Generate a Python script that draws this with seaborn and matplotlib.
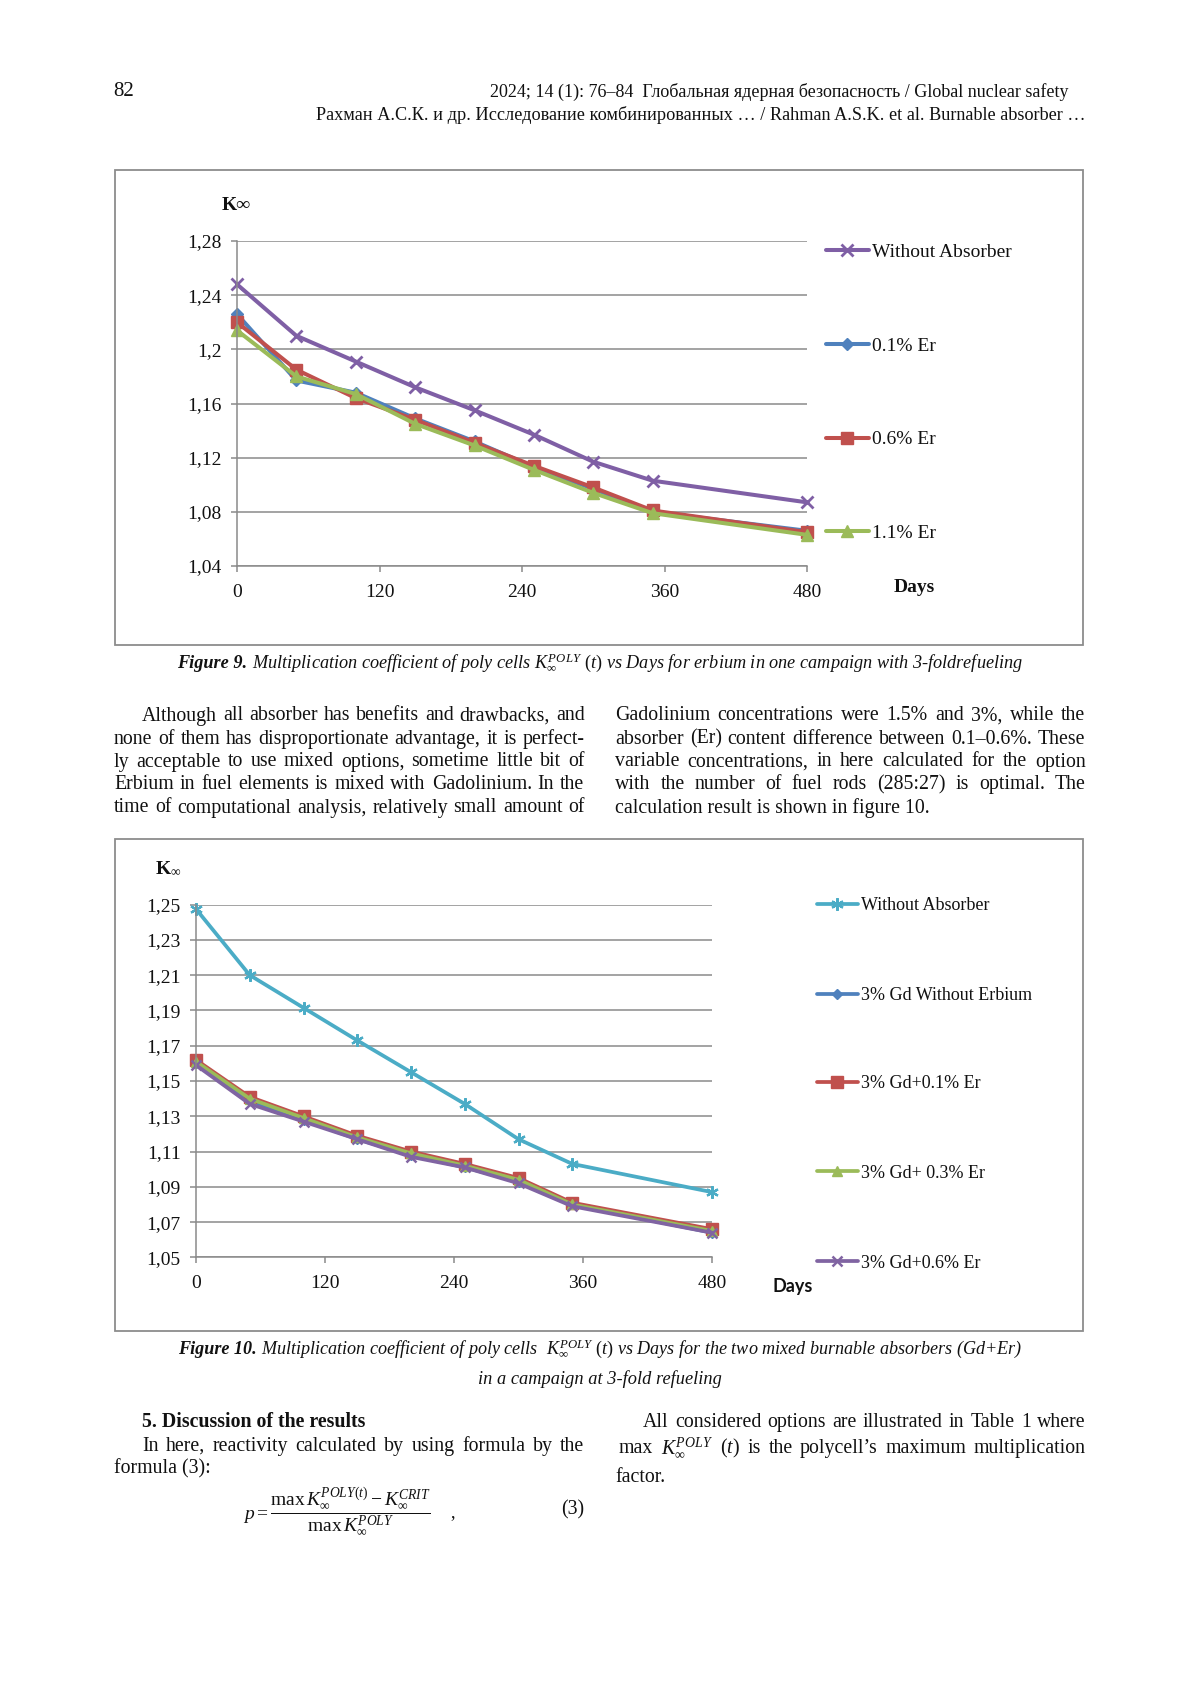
import matplotlib
matplotlib.use("Agg")
import matplotlib.pyplot as plt
import seaborn as sns
from matplotlib.patches import Rectangle

# ---------------- data ----------------
days = [0, 50, 100, 150, 200, 250, 300, 350, 480]
x_ticks = [0, 120, 240, 360, 480]
x_ticklabels = ["0", "120", "240", "360", "480"]

fig9_labels = ["Without Absorber", "0.1% Er", "0.6% Er", "1.1% Er"]
fig9_without = [1.248, 1.210, 1.191, 1.172, 1.155, 1.137, 1.117, 1.103, 1.087]
fig9_er01 = [1.226, 1.177, 1.168, 1.149, 1.132, 1.113, 1.097, 1.080, 1.066]
fig9_er06 = [1.220, 1.185, 1.164, 1.148, 1.131, 1.114, 1.098, 1.081, 1.065]
fig9_er11 = [1.214, 1.180, 1.167, 1.145, 1.129, 1.111, 1.094, 1.079, 1.063]
fig9_yticks = [1.04, 1.08, 1.12, 1.16, 1.20, 1.24, 1.28]
fig9_yticklabels = ["1,04", "1,08", "1,12", "1,16", "1,2", "1,24", "1,28"]

fig10_labels = ["Without Absorber", "3% Gd Without Erbium", "3% Gd+0.1% Er",
                "3% Gd+ 0.3% Er", "3% Gd+0.6% Er"]
fig10_without = [1.2475, 1.210, 1.1915, 1.173, 1.155, 1.137, 1.117, 1.103, 1.087]
fig10_gd3 = [1.160, 1.139, 1.128, 1.117, 1.108, 1.101, 1.093, 1.080, 1.064]
fig10_gd3_er01 = [1.162, 1.141, 1.130, 1.119, 1.110, 1.103, 1.095, 1.081, 1.066]
fig10_gd3_er03 = [1.161, 1.140, 1.129, 1.118, 1.109, 1.102, 1.094, 1.080, 1.065]
fig10_gd3_er06 = [1.159, 1.137, 1.127, 1.117, 1.107, 1.101, 1.092, 1.079, 1.064]
fig10_yticks = [1.05, 1.07, 1.09, 1.11, 1.13, 1.15, 1.17, 1.19, 1.21, 1.23, 1.25]
fig10_yticklabels = ["1,05", "1,07", "1,09", "1,11", "1,13", "1,15", "1,17",
                     "1,19", "1,21", "1,23", "1,25"]

header_1 = "2024; 14 (1): 76–84  Глобальная ядерная безопасность / Global nuclear safety"
header_2 = "Рахман А.С.К. и др. Исследование комбинированных … / Rahman A.S.K. et al. Burnable absorber …"
page_no = "82"
caption9 = r"Multiplication coefficient of poly cells $K_{\infty}^{POLY}$ $(t)$ vs Days for erbium in one campaign with 3-foldrefueling"
caption10a = r"Multiplication coefficient of poly cells  $K_{\infty}^{POLY}$ $(t)$ vs Days for the two mixed burnable absorbers (Gd+Er)"
caption10b = "in a campaign at 3-fold refueling"
para_left = ["Although all absorber has benefits and drawbacks, and",
             "none of them has disproportionate advantage, it is perfect-",
             "ly acceptable to use mixed options, sometime little bit of",
             "Erbium in fuel elements is mixed with Gadolinium. In the",
             "time of computational analysis, relatively small amount of"]
para_right = ["Gadolinium concentrations were 1.5% and 3%, while the",
              "absorber (Er) content difference between 0.1–0.6%. These",
              "variable concentrations, in here calculated for the option",
              "with the number of fuel rods (285:27) is optimal. The",
              "calculation result is shown in figure 10."]
sec_title = "5. Discussion of the results"
sec_left = ["In here, reactivity calculated by using formula by the", "formula (3):"]
sec_right = ["All considered options are illustrated in Table 1 where",
             r"max $K_{\infty}^{POLY}$ $(t)$ is the polycell’s maximum multiplication",
             "factor."]
formula = r"$p=\dfrac{\max\,K_{\infty}^{POLY(t)}-K_{\infty}^{CRIT}}{\max\,K_{\infty}^{POLY}}$"

# ---------------- setup ----------------
W, H = 1200, 1697
sns.set_theme(style="white")
plt.rcParams["font.family"] = ["Liberation Serif", "DejaVu Serif"]
plt.rcParams["mathtext.fontset"] = "custom"
plt.rcParams["mathtext.rm"] = "Liberation Serif"
plt.rcParams["mathtext.it"] = "Liberation Serif:italic"
plt.rcParams["mathtext.bf"] = "Liberation Serif:bold"
TXT = "#111111"
GRID = "#8a8a8a"

fig = plt.figure(figsize=(W / 100, H / 100), dpi=100)
fig.patch.set_facecolor("white")
R = fig.canvas.get_renderer()


def fx(x):
    return x / W


def fy(y):
    return 1 - y / H


def twidth(s, **kw):
    t = fig.text(0, 0, s, **kw)
    w = t.get_window_extent(R).width
    t.remove()
    return w


def space_w(size, **kw):
    return twidth("a a", fontsize=size, **kw) - twidth("aa", fontsize=size, **kw)


def runs_line(runs, y, x, ha="left", size=14.0, fit=None):
    def measure(sz):
        ws = [twidth(s, fontsize=sz, **kw) for s, kw in runs]
        sp = space_w(sz, **runs[-1][1]) if len(runs) > 1 else 0
        return ws, sp, sum(ws) + sp * (len(runs) - 1)
    ws, sp, total = measure(size)
    if fit is not None:
        size = size * fit / total
        ws, sp, total = measure(size)
    x0 = {"left": x, "center": x - total / 2, "right": x - total}[ha]
    for (s, kw), w in zip(runs, ws):
        fig.text(fx(x0), fy(y), s, fontsize=size, va="baseline", ha="left",
                 color=TXT, **kw)
        x0 += w + sp


def justify(line, x0, x1, y, size=14.0, **kw):
    words = line.split(" ")
    ws = [twidth(w, fontsize=size, **kw) for w in words]
    gap = (x1 - x0 - sum(ws)) / max(len(words) - 1, 1)
    x = x0
    for w, wd in zip(words, ws):
        fig.text(fx(x), fy(y), w, fontsize=size, va="baseline", ha="left",
                 color=TXT, **kw)
        x += wd + gap


def frame(l, t, r, b):
    fig.add_artist(Rectangle((fx(l), fy(b)), (r - l) / W, (b - t) / H,
                             transform=fig.transFigure, fill=False,
                             ec="#8c8c8c", lw=1.3))


def make_axes(l, t, r, b):
    return fig.add_axes([fx(l), fy(b), (r - l) / W, (b - t) / H])


def style_axes(ax, yticks, ylabels):
    ax.set_facecolor("white")
    ax.set_xlim(0, 480)
    ax.set_ylim(yticks[0], yticks[-1])
    ax.set_xticks(x_ticks)
    ax.set_xticklabels(x_ticklabels)
    ax.set_yticks(yticks)
    ax.set_yticklabels(ylabels)
    ax.set_xlabel("")
    ax.set_ylabel("")
    ax.grid(False)
    ax.yaxis.grid(True, color=GRID, linewidth=1.1)
    ax.set_axisbelow(True)
    for s in ["top", "right"]:
        ax.spines[s].set_visible(False)
    for s in ["left", "bottom"]:
        ax.spines[s].set_color(GRID)
        ax.spines[s].set_linewidth(1.1)
    ax.tick_params(axis="both", which="major", direction="out", length=4,
                   width=1.1, color=GRID, labelsize=14, labelcolor=TXT,
                   bottom=True, left=True)
    ax.tick_params(axis="y", pad=7)
    ax.tick_params(axis="x", pad=9)


def entry_legends(ax, x, ys, size, hl, pad):
    for line, y in zip(ax.get_lines(), ys):
        fig.legend(handles=[line], labels=[line.get_label()], loc="center left",
                   bbox_to_anchor=(fx(x), fy(y)), frameon=False, borderpad=0,
                   borderaxespad=0, handlelength=hl, handletextpad=pad,
                   fontsize=size, numpoints=1, labelcolor=TXT)


# ---------------- header ----------------
fig.text(fx(113.5), fy(96), page_no, fontsize=15, va="baseline", ha="left", color=TXT)
runs_line([(header_1, {})], 96.5, 1069, ha="right", size=12.5, fit=582)
runs_line([(header_2, {})], 120, 1085, ha="right", size=12.5, fit=768)

# ---------------- figure 9 ----------------
frame(114.7, 170, 1083, 645)
ax1 = make_axes(237, 241, 807, 566)
fig9_series = [fig9_without, fig9_er01, fig9_er06, fig9_er11]
fig9_styles = [("#7F5FA5", "x", 8, 2.0), ("#4F81BD", "D", 6, 1.0),
               ("#C0504D", "s", 8.5, 1.0), ("#9BBB59", "^", 9, 1.0)]
for vals, lab, (col, mk, ms, mew) in zip(fig9_series, fig9_labels, fig9_styles):
    sns.lineplot(x=days, y=vals, ax=ax1, color=col, linewidth=2.9, marker=mk,
                 markersize=ms, markeredgecolor=col, markerfacecolor=col,
                 markeredgewidth=mew, label=lab, legend=False, errorbar=None,
                 clip_on=False)
style_axes(ax1, fig9_yticks, fig9_yticklabels)
entry_legends(ax1, 826, [252, 346, 439.5, 533.5], 14, 2.2, 0.15)
fig.text(fx(222), fy(206), "K∞", fontsize=14, fontweight="bold", va="center",
         ha="left", color=TXT)
fig.text(fx(914), fy(587.5), "Days", fontsize=14, fontweight="bold", va="center",
         ha="center", color=TXT)
runs_line([("Figure 9.", dict(fontweight="bold", fontstyle="italic")),
           (caption9, dict(fontstyle="italic"))], 668, 600, ha="center",
          size=13, fit=843)

# ---------------- body text ----------------
body_base = [720.5, 743.5, 766.5, 789.5, 812.5]
for i, (line, yb) in enumerate(zip(para_left, body_base)):
    justify(line, 142 if i == 0 else 114, 584.5, yb, size=14.3)
for i, (line, yb) in enumerate(zip(para_right, body_base)):
    if i < len(para_right) - 1:
        justify(line, 615, 1085.5, yb, size=14.3)
    else:
        runs_line([(line, {})], yb, 615, size=14.3)

# ---------------- figure 10 ----------------
frame(114.7, 838.6, 1083, 1331)
ax2 = make_axes(196, 904.6, 712, 1257.4)
fig10_series = [fig10_without, fig10_gd3, fig10_gd3_er01, fig10_gd3_er03, fig10_gd3_er06]
fig10_styles = [("#4BACC6", (6, 2, 0), 9, 1.6), ("#4F81BD", "D", 5.5, 1.0),
                ("#C0504D", "s", 8.5, 1.0), ("#9BBB59", "^", 7, 1.0),
                ("#8064A2", "x", 7, 1.8)]
for vals, lab, (col, mk, ms, mew) in zip(fig10_series, fig10_labels, fig10_styles):
    sns.lineplot(x=days, y=vals, ax=ax2, color=col, linewidth=2.7, marker=mk,
                 markersize=ms, markeredgecolor=col, markerfacecolor=col,
                 markeredgewidth=mew, label=lab, legend=False, errorbar=None,
                 clip_on=False)
style_axes(ax2, fig10_yticks, fig10_yticklabels)
entry_legends(ax2, 817, [905.5, 995.5, 1084, 1173, 1263], 13, 2.27, 0.17)
fig.text(fx(155), fy(869), r"$\mathbf{K}_{\infty}$", fontsize=14, va="center",
         ha="left", color=TXT)
fig.text(fx(793), fy(1286.5), "Days", fontsize=13, fontweight="bold",
         family=["Lato", "DejaVu Sans"], va="center", ha="center", color=TXT)
runs_line([("Figure 10.", dict(fontweight="bold", fontstyle="italic")),
           (caption10a, dict(fontstyle="italic"))], 1354, 600, ha="center",
          size=13, fit=845)
runs_line([(caption10b, dict(fontstyle="italic"))], 1383.5, 600, ha="center",
          size=13, fit=241.5)

# ---------------- section 5 ----------------
runs_line([(sec_title, dict(fontweight="bold"))], 1427, 142, size=14.3)
justify(sec_left[0], 142, 584.5, 1451, size=14.3)
runs_line([(sec_left[1], {})], 1473.5, 114, size=14.3)
fig.text(fx(243), fy(1511), formula, fontsize=14, va="center", ha="left", color=TXT)
fig.text(fx(450), fy(1517), ",", fontsize=13, va="baseline", ha="left", color=TXT)
fig.text(fx(584.5), fy(1514), "(3)", fontsize=14.3, va="baseline", ha="right", color=TXT)
justify(sec_right[0], 643, 1085.5, 1427, size=14.3)
justify(sec_right[1], 619, 1085.5, 1453, size=14.3)
runs_line([(sec_right[2], {})], 1481.5, 615, size=14.3)

fig.savefig("out.png", dpi=100, facecolor="white")
